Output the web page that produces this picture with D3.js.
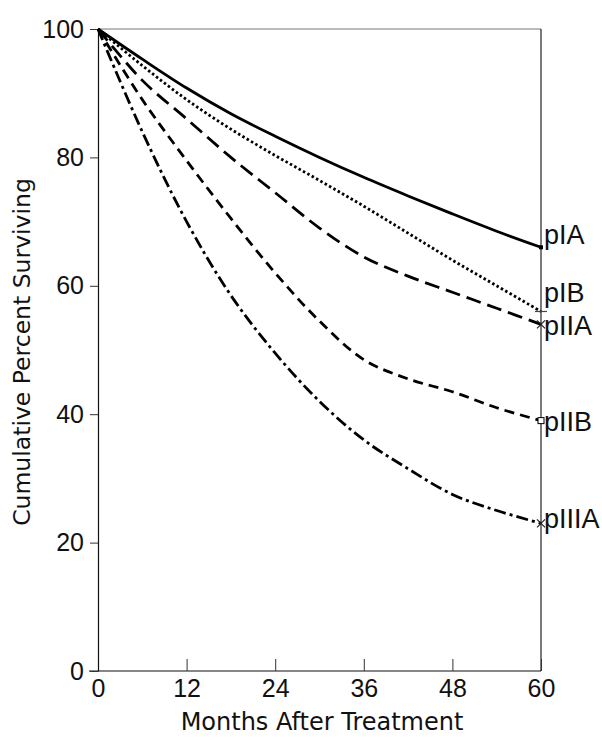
<!DOCTYPE html>
<html>
<head>
<meta charset="utf-8">
<script src="https://cdn.jsdelivr.net/npm/d3@7"></script>
<style>
  body { margin: 0; background: #fff; }
  svg text { fill: #111; }
</style>
</head>
<body>
<svg id="svg" width="602" height="743"></svg>
<script>
var months = [0, 6, 12, 18, 24, 30, 36, 42, 48, 54, 60]
var pIA   = [100, 95.3, 90.8, 86.8, 83.3, 80, 76.9, 74, 71.2, 68.5, 66]
var pIB   = [100, 94.3, 89, 84.4, 80.3, 76.4, 72.4, 68.2, 64, 60, 56]
var pIIA  = [100, 92, 86, 80, 74.5, 69, 64.5, 61.5, 59, 56.5, 54]
var pIIB  = [100, 89, 79.5, 70.5, 62, 54.5, 48.5, 45.5, 43.5, 41, 39]
var pIIIA = [100, 84, 70, 58.5, 49.5, 42, 36, 31.5, 27.5, 25, 23]
var xTicks = [0, 12, 24, 36, 48, 60]
var yTicks = [0, 20, 40, 60, 80, 100]

var series = [
    { name: "pIA", values: pIA, dash: null, marker: "fsquare", dy: -3 },
    { name: "pIB", values: pIB, dash: "2.5,2.5", marker: "bar", dy: -9 },
    { name: "pIIA", values: pIIA, dash: "15,7", marker: "x", dy: 11 },
    { name: "pIIB", values: pIIB, dash: "10,6", marker: "osquare", dy: 10 },
    { name: "pIIIA", values: pIIIA, dash: "12,4,3,4", marker: "x", dy: 5 }
]

var svg = d3.select("#svg")
var x = d3.scaleLinear().domain([0, 60]).range([98, 541])
var y = d3.scaleLinear().domain([0, 100]).range([671, 29])

// frame: top and right edges
svg.append("line").attr("x1", 98).attr("x2", 541).attr("y1", y(100)).attr("y2", y(100))
    .attr("stroke", "#777").attr("stroke-width", 1)
svg.append("line").attr("x1", 541).attr("x2", 541).attr("y1", y(100)).attr("y2", y(0))
    .attr("stroke", "#222").attr("stroke-width", 1.2)

// x axis, ticks pointing inward
var xAxis = svg.append("g")
    .attr("transform", "translate(0," + y(0) + ")")
    .call(d3.axisBottom(x).tickValues(xTicks).tickSizeInner(-12).tickSizeOuter(0).tickPadding(8))
xAxis.select(".domain").attr("d", "M89,0H541").attr("stroke", "#111").attr("stroke-width", 1.2)
xAxis.selectAll(".tick line").attr("stroke", "#333")
xAxis.selectAll("text").attr("font-family", "Liberation Sans, Arial, sans-serif").attr("font-size", 25)

// y axis
var yAxis = svg.append("g")
    .attr("transform", "translate(" + x(0) + ",0)")
    .call(d3.axisLeft(y).tickValues(yTicks).tickSizeInner(8).tickSizeOuter(0).tickPadding(6))
yAxis.select(".domain").attr("stroke", "#111").attr("stroke-width", 1.2)
yAxis.selectAll(".tick line").attr("stroke", "#333")
yAxis.selectAll("text").attr("font-family", "Liberation Sans, Arial, sans-serif").attr("font-size", 25)

var line = d3.line()
    .x(function (d, i) { return x(months[i]) })
    .y(function (d) { return y(d) })
    .curve(d3.curveCatmullRom.alpha(0.5))

series.forEach(function (s) {
    svg.append("path")
        .datum(s.values)
        .attr("d", line)
        .attr("fill", "none")
        .attr("stroke", "#000")
        .attr("stroke-width", 2.8)
        .attr("stroke-dasharray", s.dash)

    var ex = x(60), ey = y(s.values[s.values.length - 1])
    var m = svg.append("g").attr("transform", "translate(" + ex + "," + ey + ")")
    if (s.marker === "fsquare") {
        m.append("rect").attr("x", -2).attr("y", -2).attr("width", 4).attr("height", 4).attr("fill", "#000")
    } else if (s.marker === "osquare") {
        m.append("rect").attr("x", -3).attr("y", -3).attr("width", 6).attr("height", 6)
            .attr("fill", "#fff").attr("stroke", "#000").attr("stroke-width", 1)
    } else if (s.marker === "bar") {
        m.append("line").attr("x1", -6).attr("x2", 6).attr("stroke", "#444").attr("stroke-width", 1.2)
    } else {
        m.append("path").attr("d", "M-4,-4L4,4M-4,4L4,-4").attr("stroke", "#222").attr("stroke-width", 1.2)
    }

    svg.append("text")
        .attr("x", ex + 3)
        .attr("y", ey + s.dy)
        .attr("font-family", "Liberation Sans, Arial, sans-serif")
        .attr("font-size", 27)
        .text(s.name)
})

// axis titles
svg.append("text")
    .attr("x", 322).attr("y", 730)
    .attr("text-anchor", "middle")
    .attr("font-family", "DejaVu Sans, sans-serif")
    .attr("font-size", 24)
    .text("Months After Treatment")

svg.append("text")
    .attr("transform", "translate(30,352) rotate(-90)")
    .attr("text-anchor", "middle")
    .attr("font-family", "DejaVu Sans, sans-serif")
    .attr("font-size", 23.5)
    .text("Cumulative Percent Surviving")
</script>
</body>
</html>
